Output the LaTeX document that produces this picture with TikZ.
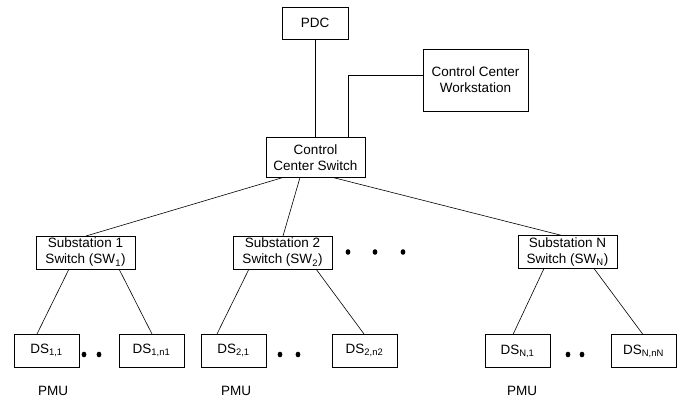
\documentclass[tikz,border=0pt]{standalone}
\usepackage{fontspec}
\setmainfont{Liberation Sans}
\usepackage{tikz}

\begin{document}
\begin{tikzpicture}[x=1pt,y=-1pt,line width=0.6pt,
    every node/.style={draw,outer sep=0pt,inner sep=0pt,align=center,
      font=\fontsize{13.5}{16}\selectfont,line width=0.6pt},
    ds/.style={minimum width=65pt,minimum height=33pt},
    sub/.style={minimum width=99pt,minimum height=33pt},
    lbl/.style={draw=none}]
    \useasboundingbox (0,0) rectangle (691,399);

    % Leitstelle
    \node[minimum width=66pt,minimum height=32pt] (pdc) at (315,23) {PDC};
    \node[minimum width=105pt,minimum height=62pt] (ccw) at (475.5,80) {Control Center\\Workstation};
    \node[minimum width=99pt,minimum height=40pt] (ccs) at (315.5,157.5) {Control\\Center Switch};

    % Umspannwerke
    \node[sub] (sw1) at (85.5,252.5) {Substation 1\\Switch (SW\textsubscript{1})};
    \node[sub] (sw2) at (282.5,252.5) {Substation 2\\Switch (SW\textsubscript{2})};
    \node[sub] (swN) at (567.5,252) {Substation N\\Switch (SW\textsubscript{N})};

    % Geraete
    \node[ds] (ds11) at (46.5,350.5) {DS\textsubscript{1,1}};
    \node[ds] (ds1n) at (151.5,350.5) {DS\textsubscript{1,n1}};
    \node[ds] (ds21) at (233.5,350.5) {DS\textsubscript{2,1}};
    \node[ds] (ds2n) at (364.5,350.5) {DS\textsubscript{2,n2}};
    \node[ds] (dsN1) at (517.5,351) {DS\textsubscript{N,1}};
    \node[ds] (dsNn) at (643.5,351) {DS\textsubscript{N,nN}};

    \node[lbl] (pmu1) at (53,391) {PMU};
    \node[lbl] (pmu2) at (236,391) {PMU};
    \node[lbl] (pmu3) at (522,391) {PMU};

    % Verbindungen
    \draw (pdc) -- (pdc |- ccs.north);
    \draw ([yshift=5pt]ccw.west) -| ([xshift=32.5pt]ccs.north);
    \draw ([xshift=17pt]ccs.south west) -- ([xshift=0.5pt]sw1.north);
    \draw ([xshift=34pt]ccs.south west) -- ([xshift=0.5pt]sw2.north);
    \draw ([xshift=67pt]ccs.south west) -- ([xshift=-5.5pt]swN.north);

    \draw ([xshift=33pt]sw1.south west) -- ([xshift=-9.5pt]ds11.north);
    \draw ([xshift=83pt]sw1.south west) -- ([xshift=0.5pt]ds1n.north);
    \draw ([xshift=16pt]sw2.south west) -- ([xshift=-16.5pt]ds21.north);
    \draw ([xshift=83pt]sw2.south west) -- ([xshift=-0.5pt]ds2n.north);
    \draw ([xshift=26pt]swN.south west) -- ([xshift=-4.5pt]dsN1.north);
    \draw ([xshift=76pt]swN.south west) -- ([xshift=-0.5pt]dsNn.north);

    % Punkte
    \foreach \x in {348,375,403} \fill (\x,252) ellipse (2.4 and 2.8);
    \foreach \x in {84,99,280,298,568,582} \fill (\x,354.5) ellipse (2.4 and 2.8);
\end{tikzpicture}
\end{document}
